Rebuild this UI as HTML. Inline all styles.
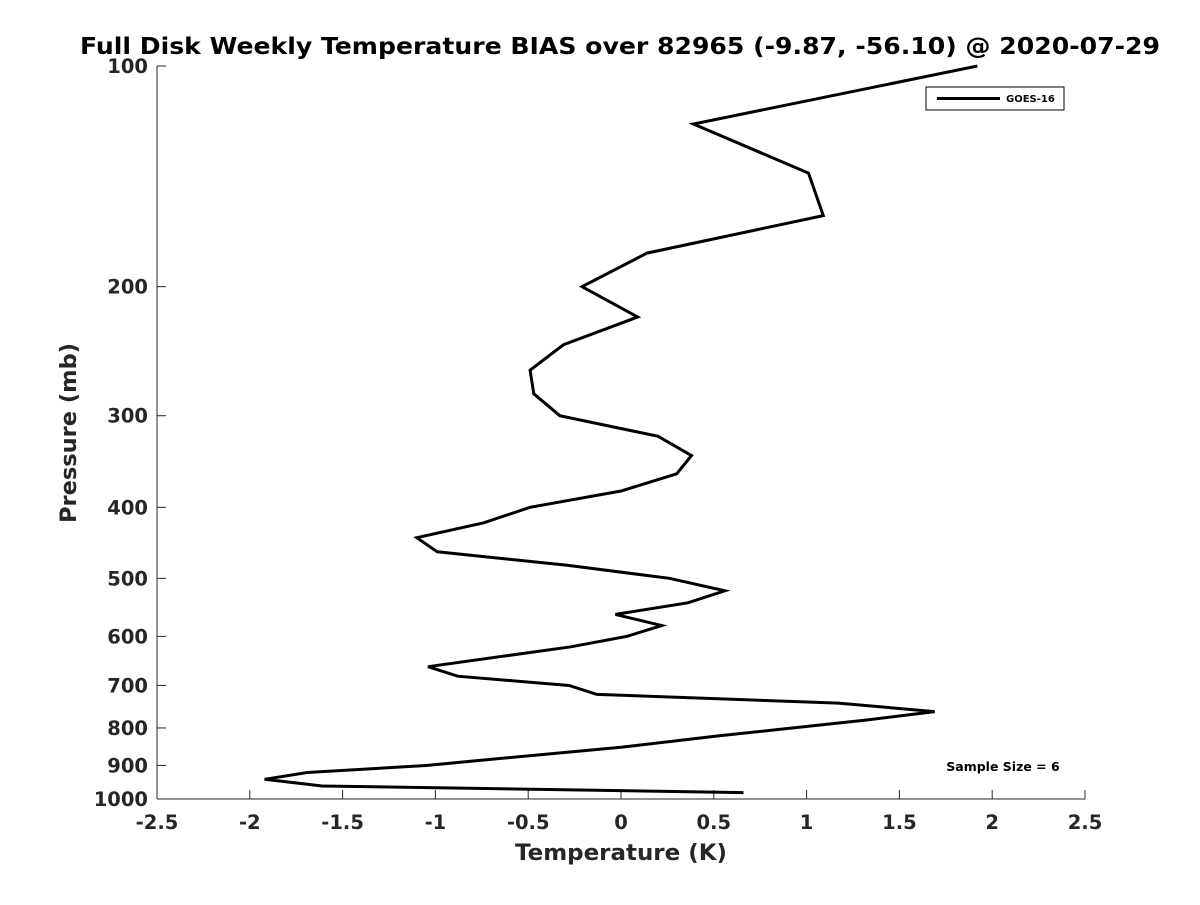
<!DOCTYPE html>
<html><head><meta charset="utf-8"><style>
body{margin:0;background:#fff}
svg text{font-family:"DejaVu Sans","Liberation Sans",sans-serif;font-weight:bold;fill:#262626}
</style></head><body>
<svg width="1200" height="900" xmlns="http://www.w3.org/2000/svg" id="c">
<text x="620" y="54" text-anchor="middle" font-size="23" textLength="1080" lengthAdjust="spacingAndGlyphs" style="fill:#000">Full Disk Weekly Temperature BIAS over 82965 (-9.87, -56.10) @ 2020-07-29</text>
<g id="axes"></g>
<polyline id="line" fill="none" stroke="#000" stroke-width="3" stroke-linejoin="miter"/>
<rect x="926" y="87" width="138" height="23" fill="#fff" stroke="#000" stroke-width="1"/>
<line x1="937" y1="98.5" x2="1000" y2="98.5" stroke="#000" stroke-width="3"/>
<text x="1006" y="102" font-size="10" style="fill:#000">GOES-16</text>
<text x="1003" y="771" text-anchor="middle" font-size="12.5" style="fill:#000">Sample Size = 6</text>
<text x="621" y="860" text-anchor="middle" font-size="22" textLength="212" lengthAdjust="spacingAndGlyphs">Temperature (K)</text>
<text transform="translate(76,433) rotate(-90)" text-anchor="middle" font-size="22" textLength="180" lengthAdjust="spacingAndGlyphs">Pressure (mb)</text>
</svg>
<script>
const xTicks=[-2.5,-2,-1.5,-1,-0.5,0,0.5,1,1.5,2,2.5];
const xTickLabels=["-2.5","-2","-1.5","-1","-0.5","0","0.5","1","1.5","2","2.5"];
const yTicks=[100,200,300,400,500,600,700,800,900,1000];
const pressure=[100,120,140,160,180,200,220,240,260,280,300,320,340,360,380,400,420,440,460,480,500,520,540,560,580,600,620,660,680,700,720,740,760,780,820,850,880,900,920,940,960,980];
const temps=[1.92,0.39,1.01,1.09,0.14,-0.21,0.09,-0.31,-0.49,-0.47,-0.33,0.20,0.38,0.30,0.0,-0.49,-0.74,-1.10,-0.99,-0.29,0.26,0.56,0.36,-0.03,0.22,0.03,-0.27,-1.04,-0.88,-0.28,-0.13,1.17,1.69,1.33,0.53,0.0,-0.64,-1.05,-1.69,-1.92,-1.61,0.66];
const X0=157,X1=1085,Y0=66,Y1=799;
const xs=v=>X0+(v+2.5)/5*(X1-X0);
const ys=p=>Y0+(Math.log10(p)-2)*(Y1-Y0);
const NS="http://www.w3.org/2000/svg";
const g=document.getElementById('axes');
function mk(t,a){const e=document.createElementNS(NS,t);for(const k in a)e.setAttribute(k,a[k]);g.appendChild(e);return e;}
let ax=mk('line',{x1:X0,y1:Y1,x2:X1,y2:Y1,stroke:'#262626','stroke-width':1});


let ay=mk('line',{x1:X0,y1:Y0,x2:X0,y2:Y1,stroke:'#262626','stroke-width':1});


xTicks.forEach((v,i)=>{
 const x=xs(v);
 let t=mk('line',{x1:x,y1:Y1,x2:x,y2:Y1-9,stroke:'#262626'});
 
 
 let l=mk('text',{x:x,y:Y1+30,'text-anchor':'middle','font-size':19.5});
 
 
 l.textContent=xTickLabels[i];
});
yTicks.forEach(p=>{
 const y=ys(p);
 let t=mk('line',{x1:X0,y1:y,x2:X0+9,y2:y,stroke:'#262626'});
 
 
 let l=mk('text',{x:X0-9,y:y+7,'text-anchor':'end','font-size':19.5});
 
 
 l.textContent=String(p);
});
document.getElementById('line').setAttribute('points',pressure.map((p,i)=>xs(temps[i]).toFixed(1)+','+ys(p).toFixed(1)).join(' '));
</script>
</body></html>
